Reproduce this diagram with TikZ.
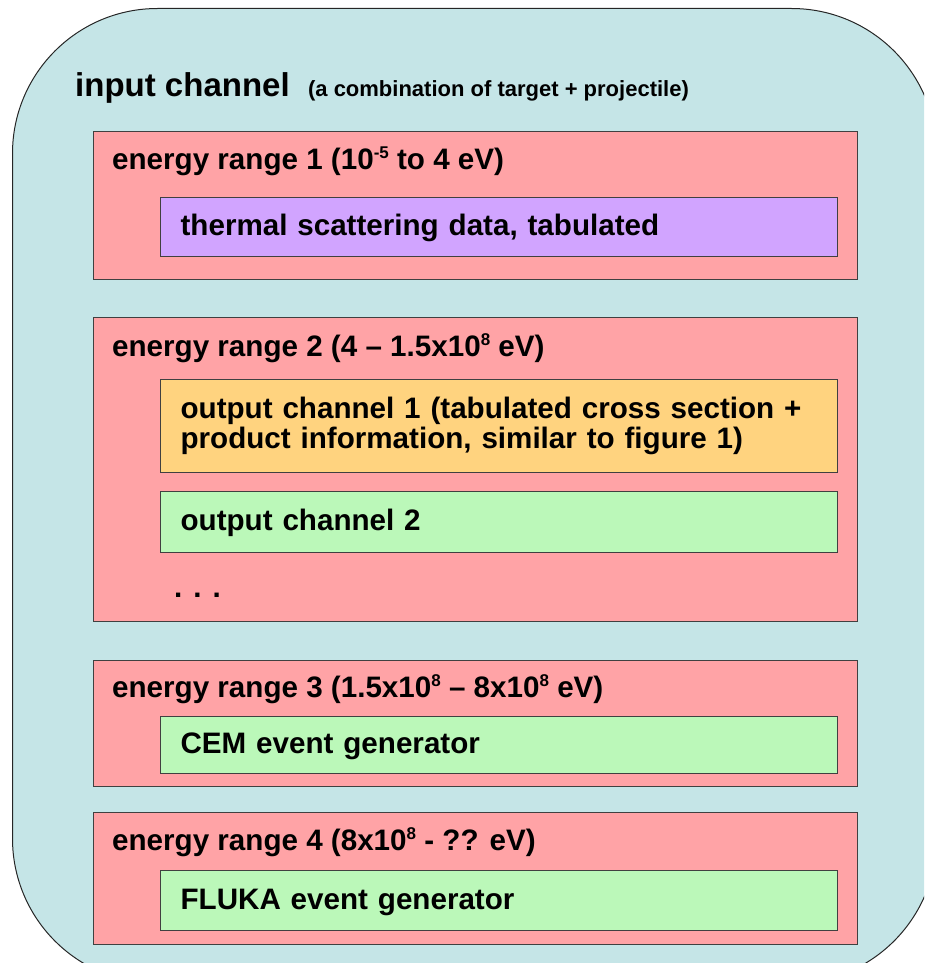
\documentclass[tikz,border=0pt]{standalone}
\usepackage{fontspec}
\setmainfont{Liberation Sans}
\usetikzlibrary{positioning}
\definecolor{chanblue}{RGB}{197,229,231}
\definecolor{rangered}{RGB}{255,163,166}
\definecolor{thermviolet}{RGB}{209,164,255}
\definecolor{outorange}{RGB}{255,211,127}
\definecolor{outgreen}{RGB}{187,248,185}
\newcommand{\expo}[1]{\raisebox{11pt}{\fontsize{17pt}{17pt}\selectfont#1}}
\tikzset{
rangebox/.style={draw=black!75,line width=1.2pt,fill=rangered,anchor=north west,inner sep=0pt,minimum width=764pt},
databox/.style={draw=black!75,line width=1.2pt,anchor=north west,inner xsep=20pt,inner ysep=0pt,minimum width=677pt,text width=637pt,align=left,font=\bfseries\fontsize{29.6pt}{30pt}\selectfont},
oneline/.style={databox,text height=21pt,text depth=4pt},
rangelbl/.style={anchor=base west,inner sep=0pt,font=\bfseries\fontsize{29.6pt}{30pt}\selectfont}
}
\begin{document}
\begin{tikzpicture}[x=1pt,y=-1pt]
\useasboundingbox (0,0) rectangle (924,963);
\clip (0,0) rectangle (924,963);
%input channel
\node[draw=black!85,line width=1pt,fill=chanblue,rounded corners=145pt,anchor=north west,minimum width=924pt,minimum height=975pt] (chan) at (12,8) {};
\node[anchor=base west,inner sep=0pt,font=\bfseries\fontsize{33pt}{36pt}\selectfont] (chant) at (75,97) {input channel};
\node[base right=18pt of chant,inner sep=0pt,font=\bfseries\fontsize{22pt}{24pt}\selectfont] (chans) {(a combination of target + projectile)};
%range 1
\node[rangebox,minimum height=148pt] (r1) at (93,131) {};
\node[rangelbl] (r1t) at ([xshift=19pt,yshift=-38pt]r1.north west) {energy range 1 (10\expo{-5} to 4 eV)};
\node[oneline,fill=thermviolet,minimum height=59pt] (therm) at (160,197) {thermal scattering data, tabulated};
%range 2
\node[rangebox,minimum height=304pt] (r2) at (93,317) {};
\node[rangelbl] (r2t) at ([xshift=19pt,yshift=-39pt]r2.north west) {energy range 2 (4 -- 1.5x10\expo{8} eV)};
\node[databox,fill=outorange,minimum height=93pt] (out1) at (160,379) {output channel 1 (tabulated cross section +\\product information, similar to figure 1)};
\node[oneline,fill=outgreen,minimum height=61pt] (out2) at (160,491) {output channel 2};
\node[rangelbl] (dots) at (174,597) {. . .};
%range 3
\node[rangebox,minimum height=126pt] (r3) at (93,660) {};
\node[rangelbl] (r3t) at ([xshift=19pt,yshift=-37pt]r3.north west) {energy range 3 (1.5x10\expo{8} -- 8x10\expo{8} eV)};
\node[oneline,fill=outgreen,minimum height=57pt] (cem) at (160,716) {CEM event generator};
%range 4
\node[rangebox,minimum height=132pt] (r4) at (93,812) {};
\node[rangelbl] (r4t) at ([xshift=19pt,yshift=-38pt]r4.north west) {energy range 4 (8x10\expo{8} - ?? eV)};
\node[oneline,fill=outgreen,minimum height=60pt] (fluka) at (160,870) {FLUKA event generator};
\end{tikzpicture}
\end{document}
